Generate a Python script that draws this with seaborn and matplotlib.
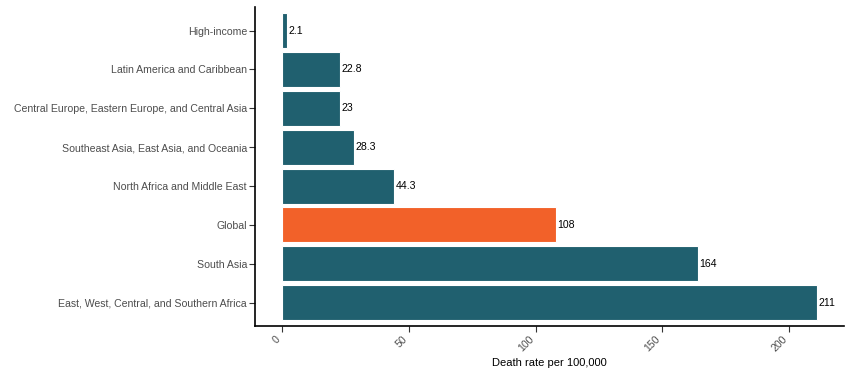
import matplotlib
matplotlib.use("Agg")
import matplotlib.pyplot as plt
from matplotlib import font_manager
import seaborn as sns
import pandas as pd

# Data
regions = [
    "High-income",
    "Latin America and Caribbean",
    "Central Europe, Eastern Europe, and Central Asia",
    "Southeast Asia, East Asia, and Oceania",
    "North Africa and Middle East",
    "Global",
    "South Asia",
    "East, West, Central, and Southern Africa",
]
death_rates = [2.1, 22.8, 23, 28.3, 44.3, 108, 164, 211]
rate_labels = ["2.1", "22.8", "23", "28.3", "44.3", "108", "164", "211"]
groups = ["region", "region", "region", "region", "region", "global", "region", "region"]

colors = {"region": "#20606f", "global": "#f26129"}

df = pd.DataFrame({"region": regions, "rate": death_rates, "group": groups})

sns.set_style("white")
installed = {f.name for f in font_manager.fontManager.ttflist}
if "Liberation Sans Narrow" in installed:
    plt.rcParams["font.family"] = ["Liberation Sans Narrow", "DejaVu Sans"]
    fs = 9
else:
    plt.rcParams["font.family"] = ["Liberation Sans", "DejaVu Sans"]
    fs = 7.6

fig = plt.figure(figsize=(8.49, 3.77), dpi=100)
ax = fig.add_axes([0.3007, 0.135, 0.6933, 0.846])

sns.barplot(data=df, x="rate", y="region", hue="group", palette=colors,
            orient="h", width=0.9, dodge=False, legend=False, saturation=1,
            edgecolor="white", linewidth=0.8, ax=ax)

# value labels at the end of each bar
for i, (val, lab) in enumerate(zip(death_rates, rate_labels)):
    ax.annotate(lab, xy=(val, i), xytext=(1, 0), textcoords="offset points",
                ha="left", va="center", fontsize=fs, color="black")

ax.set_xlim(-10.55, 221.55)
ax.set_ylim(len(regions) - 0.4, -0.6)
ax.set_xticks([0, 50, 100, 150, 200])
ax.set_xticklabels(["0", "50", "100", "150", "200"], rotation=45, ha="right",
                   rotation_mode="default", fontsize=fs, color="#4d4d4d")
ax.tick_params(axis="y", labelsize=fs, labelcolor="#4d4d4d", pad=2)
ax.tick_params(axis="x", pad=2)
ax.tick_params(axis="both", length=4, width=0.8, color="#333333",
               direction="out", bottom=True, left=True)
ax.set_xlabel("Death rate per 100,000", fontsize=fs + 0.4, color="black",
              labelpad=3)
ax.set_ylabel("")

for s in ["top", "right"]:
    ax.spines[s].set_visible(False)
for s in ["left", "bottom"]:
    ax.spines[s].set_color("black")
    ax.spines[s].set_linewidth(1.2)

fig.savefig("out.png", dpi=100)
